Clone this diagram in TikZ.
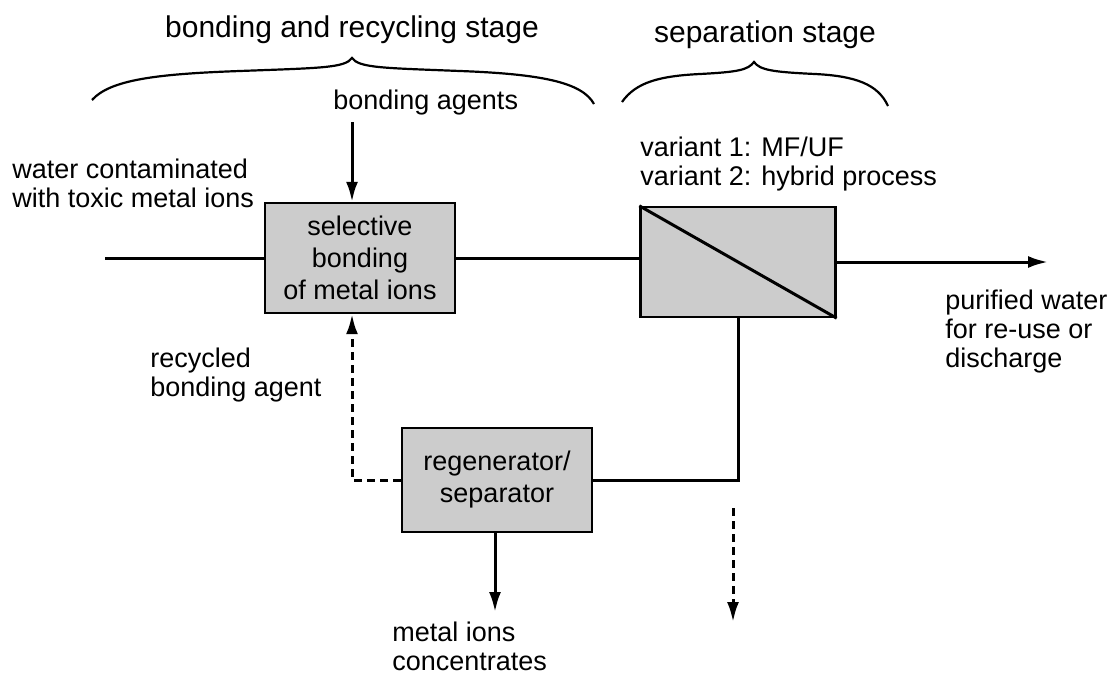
\documentclass[tikz,border=0pt]{standalone}
\usepackage{fontspec}
\setmainfont{Liberation Sans}
\usetikzlibrary{positioning,calc,arrows.meta}

\begin{document}
\begin{tikzpicture}[x=0.5pt,y=-0.5pt,
  unit/.style={draw,line width=1.2pt,fill=black!20,minimum width=95pt,minimum height=55pt,align=center,inner sep=0pt,font=\fontsize{13.5}{16}\selectfont},
  flow/.style={line width=1.5pt},
  tip/.style={-{Latex[length=10pt,width=6pt]}},
  recycle/.style={flow,dash pattern=on 4pt off 2.5pt},
  lbl/.style={align=left,inner sep=0pt,font=\fontsize{13.5}{14.5}\selectfont},
  stage/.style={inner sep=0pt,font=\fontsize{15}{18}\selectfont},
  brace/.style={line width=1.1pt}]
\useasboundingbox (0,0) rectangle (1115,680);

% stages
\node[stage] (t1) at (352,30) {bonding and recycling stage};
\node[stage] (t2) at (765,35) {separation stage};
\draw[brace] (92,100) .. controls (110,80) and (155,74) .. (240,71) .. controls (320,68) and (345,68) .. (352,58) .. controls (359,68) and (384,68) .. (460,71) .. controls (540,74) and (582,82) .. (594,104);
\draw[brace] (622,102) .. controls (636,82) and (660,76) .. (700,74) .. controls (738,72) and (748,70) .. (754,62) .. controls (760,70) and (772,72) .. (815,74) .. controls (855,76) and (878,84) .. (888,106);

% units
\node[unit] (bond) at (360,258) {selective\\bonding\\of metal ions};
\node[unit,minimum width=97.5pt] (sep) at (738,262) {};
\node[unit,minimum height=52pt] (regen) at (497,480) {regenerator/\\separator};
\draw[line width=1.5pt] (sep.north west) -- (sep.south east);

% labels
\node[lbl,anchor=west] (agents) at (333,103) {bonding agents};
\node[lbl,anchor=west] (water) at (12,183) {water contaminated\\with toxic metal ions};
\node[lbl,anchor=south west] (variant) at (640,192) {variant 1: MF/UF\\variant 2: hybrid process};
\node[lbl,anchor=north west] (pure) at (945,290) {purified water\\for re-use or\\discharge};
\node[lbl,anchor=west] (recyc) at (150,375) {recycled\\bonding agent};
\node[lbl,anchor=north west] (metal) at (392,622) {metal ions\\concentrates};

% free ends
\coordinate (feed) at (105,258);
\coordinate (agent) at (352,122);
\coordinate (clean) at (1048,262);
\coordinate (conc) at (495,612);
\coordinate (drain0) at (733,508);
\coordinate (drain1) at (733,622);

% flows
\draw[flow] (feed) -- (bond.west);
\draw[flow] (bond.east) -- (sep.west |- bond.east);
\draw[flow,tip] (sep.east) -- (clean);
\draw[flow,tip] (agent) -- (agent |- bond.north);
\draw[flow] (sep.south) |- (regen.east);
\draw[recycle,tip] (regen.west) -| (agent |- bond.south);
\draw[flow,tip] (regen.south -| conc) -- (conc);
\draw[recycle,tip] (drain0) -- (drain1);
\end{tikzpicture}
\end{document}
